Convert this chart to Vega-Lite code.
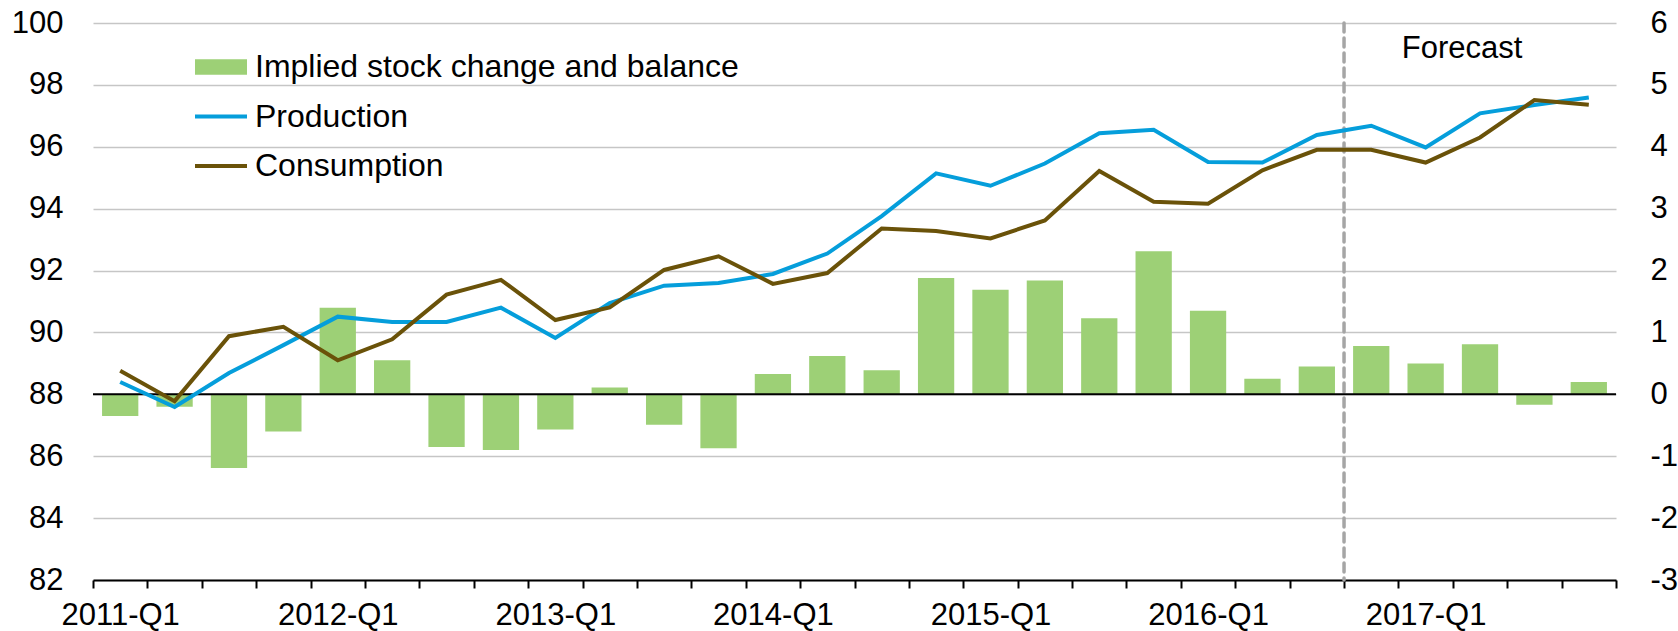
{
  "$schema": "https://vega.github.io/schema/vega-lite/v6.json",
  "width": 1523,
  "height": 557,
  "autosize": {"type": "none"},
  "padding": {"left": 93, "top": 23, "right": 62, "bottom": 51},
  "background": "#ffffff",
  "config": {
    "view": {"stroke": null},
    "font": "Liberation Sans",
    "scale": {"bandPaddingInner": 0, "bandPaddingOuter": 0},
    "axis": {"labelFont": "Liberation Sans", "labelColor": "#000000"},
    "axisX": {
      "tickBand": "extent",
      "domainColor": "#000000",
      "domainWidth": 2,
      "tickColor": "#000000",
      "tickWidth": 2,
      "tickSize": 8,
      "labelAngle": 0,
      "labelFontSize": 31,
      "labelPadding": 12,
      "labelOverlap": false,
      "labelExpr": "indexof(datum.label, 'Q1') >= 0 ? datum.label : ''",
      "grid": false,
      "zindex": 1
    },
    "text": {"font": "Liberation Sans"}
  },
  "data": {
    "values": [
      {"q": "2011-Q1", "Implied stock change and balance": -0.35, "Production": 88.40, "Consumption": 88.76},
      {"q": "2011-Q2", "Implied stock change and balance": -0.20, "Production": 87.59, "Consumption": 87.78},
      {"q": "2011-Q3", "Implied stock change and balance": -1.19, "Production": 88.69, "Consumption": 89.88},
      {"q": "2011-Q4", "Implied stock change and balance": -0.60, "Production": 89.59, "Consumption": 90.18},
      {"q": "2012-Q1", "Implied stock change and balance": 1.40, "Production": 90.51, "Consumption": 89.10},
      {"q": "2012-Q2", "Implied stock change and balance": 0.55, "Production": 90.34, "Consumption": 89.78},
      {"q": "2012-Q3", "Implied stock change and balance": -0.85, "Production": 90.34, "Consumption": 91.22},
      {"q": "2012-Q4", "Implied stock change and balance": -0.90, "Production": 90.80, "Consumption": 91.70},
      {"q": "2013-Q1", "Implied stock change and balance": -0.57, "Production": 89.82, "Consumption": 90.40},
      {"q": "2013-Q2", "Implied stock change and balance": 0.11, "Production": 90.95, "Consumption": 90.81},
      {"q": "2013-Q3", "Implied stock change and balance": -0.49, "Production": 91.51, "Consumption": 92.02},
      {"q": "2013-Q4", "Implied stock change and balance": -0.87, "Production": 91.60, "Consumption": 92.46},
      {"q": "2014-Q1", "Implied stock change and balance": 0.33, "Production": 91.89, "Consumption": 91.57},
      {"q": "2014-Q2", "Implied stock change and balance": 0.62, "Production": 92.55, "Consumption": 91.92},
      {"q": "2014-Q3", "Implied stock change and balance": 0.39, "Production": 93.76, "Consumption": 93.36},
      {"q": "2014-Q4", "Implied stock change and balance": 1.88, "Production": 95.14, "Consumption": 93.28},
      {"q": "2015-Q1", "Implied stock change and balance": 1.69, "Production": 94.74, "Consumption": 93.04},
      {"q": "2015-Q2", "Implied stock change and balance": 1.84, "Production": 95.46, "Consumption": 93.62},
      {"q": "2015-Q3", "Implied stock change and balance": 1.23, "Production": 96.44, "Consumption": 95.22},
      {"q": "2015-Q4", "Implied stock change and balance": 2.31, "Production": 96.55, "Consumption": 94.22},
      {"q": "2016-Q1", "Implied stock change and balance": 1.35, "Production": 95.51, "Consumption": 94.16},
      {"q": "2016-Q2", "Implied stock change and balance": 0.25, "Production": 95.49, "Consumption": 95.24},
      {"q": "2016-Q3", "Implied stock change and balance": 0.45, "Production": 96.38, "Consumption": 95.90},
      {"q": "2016-Q4", "Implied stock change and balance": 0.78, "Production": 96.68, "Consumption": 95.90},
      {"q": "2017-Q1", "Implied stock change and balance": 0.50, "Production": 95.98, "Consumption": 95.49},
      {"q": "2017-Q2", "Implied stock change and balance": 0.81, "Production": 97.08, "Consumption": 96.30},
      {"q": "2017-Q3", "Implied stock change and balance": -0.17, "Production": 97.35, "Consumption": 97.51},
      {"q": "2017-Q4", "Implied stock change and balance": 0.20, "Production": 97.59, "Consumption": 97.36}
    ]
  },
  "layer": [
    {
      "transform": [{"fold": ["Implied stock change and balance"], "as": ["series", "value"]}],
      "mark": {"type": "bar", "width": {"band": 0.667}},
      "encoding": {
        "x": {"field": "q", "type": "ordinal", "title": null},
        "y": {
          "field": "value",
          "type": "quantitative",
          "title": null,
          "scale": {"domain": [-3, 6], "nice": false, "zero": false},
          "axis": {
            "orient": "right",
            "values": [-3, -2, -1, 0, 1, 2, 3, 4, 5, 6],
            "grid": false,
            "domain": false,
            "ticks": false,
            "tickSize": 0,
            "labelAlign": "left",
            "labelPadding": 34,
            "labelFontSize": 31,
            "format": "d",
            "labelExpr": "replace(datum.label, '\u2212', '-')"
          }
        },
        "color": {
          "field": "series",
          "type": "nominal",
          "scale": {
            "domain": ["Implied stock change and balance", "Production", "Consumption"],
            "range": ["#9DD076", "#059EDB", "#6A5209"]
          },
          "legend": {
            "orient": "none",
            "legendX": 112,
            "legendY": 28,
            "title": null,
            "direction": "vertical",
            "padding": 0,
            "symbolType": "square",
            "symbolSize": 676,
            "symbolStrokeWidth": 0,
            "labelFontSize": 32,
            "labelFont": "Liberation Sans",
            "labelColor": "#000000",
            "labelLimit": 900,
            "labelOffset": 18,
            "rowPadding": 17.5,
            "encode": {
              "symbols": {
                "update": {
                  "shape": {"signal": "datum.value === 'Implied stock change and balance' ? 'M-2,-0.6H2V0.6H-2Z' : 'M-2,-0.15H2V0.15H-2Z'"},
                  "fill": {"scale": "color", "field": "value"},
                  "strokeWidth": {"value": 0},
                  "opacity": {"value": 1}
                }
              }
            }
          }
        }
      }
    },
    {
      "layer": [
        {
          "transform": [{"filter": "datum.q === '2016-Q4'"}],
          "mark": {"type": "rule", "color": "#A5A5A5", "strokeWidth": 3.5, "strokeDash": [9, 6], "strokeCap": "round"},
          "encoding": {"x": {"field": "q", "type": "ordinal", "title": null, "bandPosition": 0}}
        },
        {
          "transform": [{"filter": "datum.q === '2011-Q1'"}],
          "mark": {"type": "rule", "color": "#000000", "strokeWidth": 2},
          "encoding": {"y": {"datum": 88}}
        },
        {
          "transform": [{"fold": ["Production", "Consumption"], "as": ["series", "value"]}],
          "mark": {"type": "line", "strokeWidth": 4},
          "encoding": {
            "x": {"field": "q", "type": "ordinal", "title": null},
            "y": {
              "field": "value",
              "type": "quantitative",
              "title": null,
              "scale": {"domain": [82, 100], "nice": false, "zero": false},
              "axis": {
                "values": [82, 84, 86, 88, 90, 92, 94, 96, 98, 100],
                "grid": true,
                "gridColor": "#C6C6C6",
                "gridWidth": 1.5,
                "domain": false,
                "ticks": false,
                "tickSize": 0,
                "labelPadding": 30,
                "labelFontSize": 31
              }
            },
            "color": {"field": "series", "type": "nominal"}
          }
        },
        {
          "transform": [{"filter": "datum.q === '2017-Q2'"}],
          "mark": {"type": "text", "align": "center", "baseline": "alphabetic", "fontSize": 31, "color": "#000000", "dx": -18, "dy": 35},
          "encoding": {
            "x": {"field": "q", "type": "ordinal", "title": null},
            "y": {"datum": 100},
            "text": {"value": "Forecast"}
          }
        }
      ]
    }
  ],
  "resolve": {"scale": {"y": "independent"}, "axis": {"y": "independent"}}
}
